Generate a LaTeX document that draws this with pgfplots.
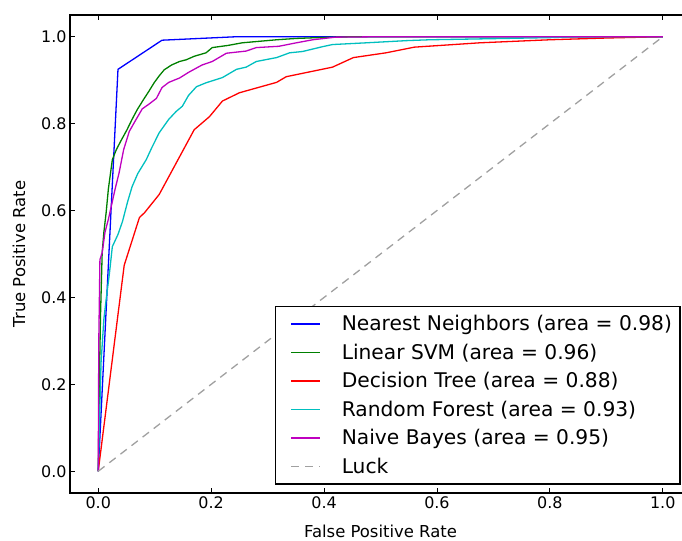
\documentclass[border=0pt]{standalone}
\usepackage{fontspec}
\setmainfont{DejaVu Sans}
\usepackage{pgfplots}
\pgfplotsset{compat=1.18}
\usetikzlibrary{calc}
\definecolor{mplb}{RGB}{0,0,255}
\definecolor{mplg}{RGB}{0,128,0}
\definecolor{mplr}{RGB}{255,0,0}
\definecolor{mplc}{RGB}{0,191,191}
\definecolor{mplm}{RGB}{191,0,191}
\definecolor{luck}{RGB}{160,160,160}
\begin{document}
\begin{tikzpicture}
\begin{axis}[name=ax, scale only axis, width=621bp, height=478bp,
  xmin=-0.05, xmax=1.05, ymin=-0.05, ymax=1.05,
  xtick={0,0.2,0.4,0.6,0.8,1.0}, ytick={0,0.2,0.4,0.6,0.8,1.0},
  tick align=inside, major tick length=5.5bp,
  tick style={black, line width=0.8bp},
  axis line style={line width=1.2bp},
  /pgf/number format/assume math mode=true,
  xticklabel style={font=\fontsize{16}{19}\selectfont, /pgf/number format/fixed, /pgf/number format/fixed zerofill, /pgf/number format/precision=1},
  yticklabel style={font=\fontsize{16}{19}\selectfont, /pgf/number format/fixed, /pgf/number format/fixed zerofill, /pgf/number format/precision=1},
  xlabel={False Positive Rate}, ylabel={True Positive Rate},
  label style={font=\fontsize{16.5}{19}\selectfont},
  xlabel shift=10bp, ylabel shift=9bp,
  legend style={at={(1,0)}, anchor=south east, xshift=-11bp, yshift=9bp,
    outer sep=0pt,
    font=\fontsize{20.3}{24}\selectfont, draw=black, line width=1.2bp,
    cells={anchor=west, inner xsep=0pt}, inner xsep=6bp, inner ysep=7bp, row sep=7.7bp, column sep=19bp},
  legend image code/.code={\path (0bp,0bp); \draw[#1, line width=1.4bp] (9bp,0bp) -- (38bp,0bp);},
]
\addplot[mplb, line width=1.3bp] coordinates {(0,0) (0.035,0.925) (0.113,0.992) (0.245,1.0) (1,1)};
\addlegendentry{Nearest Neighbors (area = 0.98)}
\addplot[mplg, line width=1.3bp] coordinates {(0,0) (0.002,0.2) (0.004,0.356) (0.007,0.503) (0.010,0.55) (0.014,0.595) (0.018,0.65) (0.025,0.717) (0.032,0.74) (0.040,0.76) (0.051,0.786) (0.060,0.81) (0.069,0.832) (0.080,0.855) (0.090,0.875) (0.099,0.894) (0.108,0.91) (0.117,0.924) (0.130,0.935) (0.144,0.943) (0.156,0.947) (0.170,0.955) (0.191,0.963) (0.202,0.975) (0.230,0.980) (0.255,0.986) (0.290,0.99) (0.316,0.993) (0.350,0.996) (0.39,0.998) (0.45,1.0) (1,1)};
\addlegendentry{Linear SVM (area = 0.96)}
\addplot[mplr, line width=1.3bp] coordinates {(0,0) (0.046,0.474) (0.073,0.584) (0.082,0.595) (0.108,0.637) (0.17,0.786) (0.197,0.816) (0.22,0.852) (0.25,0.871) (0.316,0.895) (0.333,0.908) (0.415,0.930) (0.452,0.952) (0.51,0.963) (0.56,0.976) (0.676,0.986) (0.80,0.993) (0.9,0.997) (1,1)};
\addlegendentry{Decision Tree (area = 0.88)}
\addplot[mplc, line width=1.3bp] coordinates {(0,0) (0.002,0.1) (0.005,0.25) (0.010,0.35) (0.014,0.395) (0.020,0.457) (0.025,0.517) (0.035,0.545) (0.043,0.575) (0.052,0.62) (0.060,0.655) (0.070,0.685) (0.085,0.717) (0.095,0.745) (0.108,0.779) (0.125,0.81) (0.138,0.828) (0.149,0.84) (0.160,0.865) (0.174,0.885) (0.191,0.894) (0.22,0.906) (0.245,0.925) (0.262,0.93) (0.28,0.943) (0.316,0.952) (0.339,0.963) (0.362,0.966) (0.397,0.977) (0.415,0.982) (0.475,0.986) (0.546,0.991) (0.587,0.993) (0.676,0.995) (0.803,0.998) (0.85,1.0) (1,1)};
\addlegendentry{Random Forest (area = 0.93)}
\addplot[mplm, line width=1.3bp] coordinates {(0,0) (0.001,0.3) (0.003,0.487) (0.007,0.503) (0.012,0.55) (0.018,0.58) (0.023,0.609) (0.030,0.65) (0.037,0.687) (0.045,0.74) (0.055,0.782) (0.065,0.805) (0.078,0.834) (0.090,0.845) (0.103,0.858) (0.113,0.883) (0.125,0.895) (0.144,0.905) (0.160,0.918) (0.184,0.935) (0.202,0.943) (0.227,0.962) (0.262,0.967) (0.28,0.975) (0.32,0.978) (0.351,0.986) (0.38,0.993) (0.42,0.999) (0.5,1) (1,1)};
\addlegendentry{Naive Bayes (area = 0.95)}
\addplot[luck, line width=1.3bp, dash pattern=on 8bp off 6bp] coordinates {(0,0) (1,1)};
\addlegendentry{Luck}
\end{axis}
\pgfresetboundingbox
\path[use as bounding box] ($(ax.south west)+(-70bp,-48bp)$) rectangle ($(ax.north west)+(612bp,15bp)$);
\end{tikzpicture}
\end{document}
